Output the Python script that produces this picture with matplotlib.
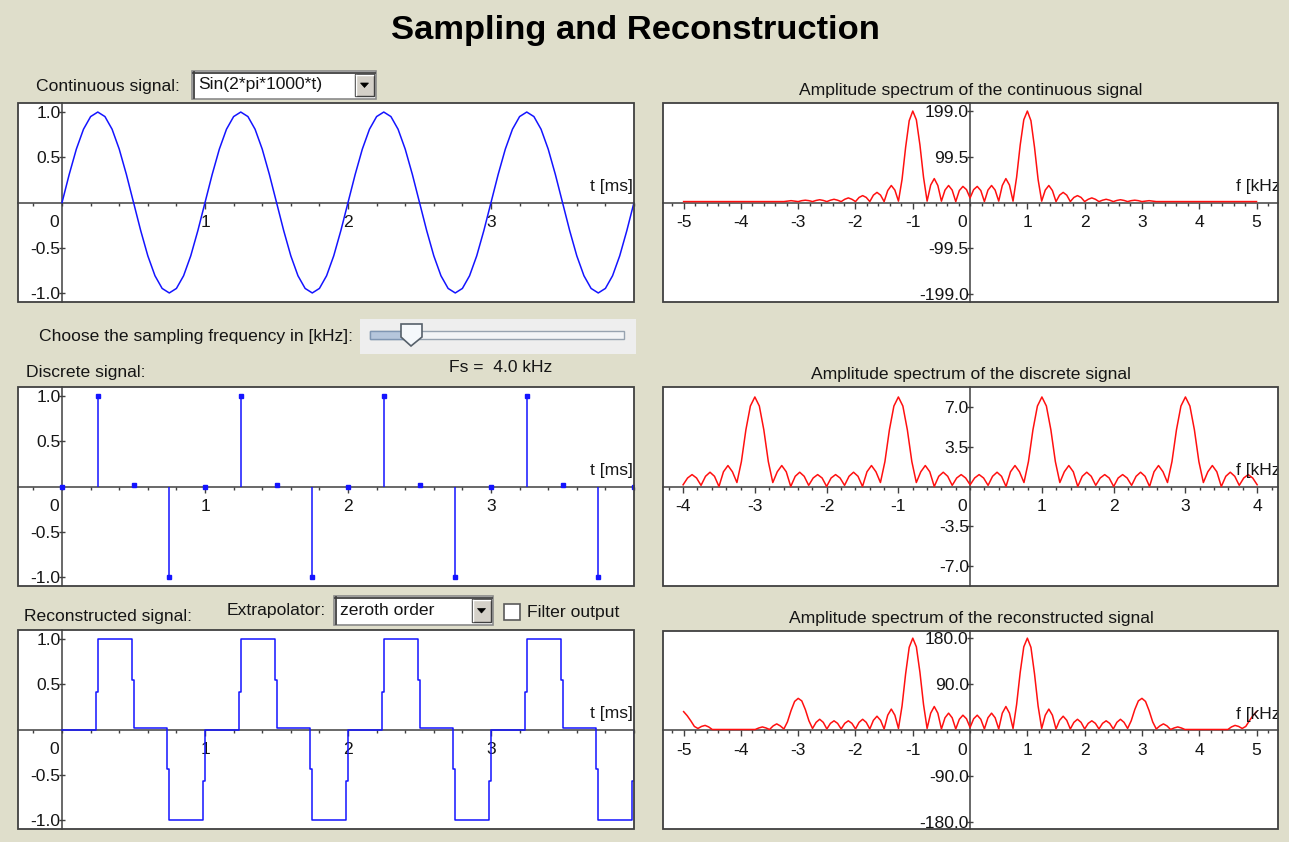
import numpy as np
import matplotlib.pyplot as plt
import matplotlib.transforms as mtransforms
from matplotlib.patches import Rectangle, Polygon
from matplotlib.ticker import MultipleLocator, FixedLocator

plt.rcParams['font.family'] = ['Liberation Sans', 'DejaVu Sans']

W, H = 1289, 842
BG = '#DFDECB'
FRAME = '#404040'
TXT = '#151515'
BLUE = '#1414FF'
RED = '#FF1010'
FS = 12.6

# ---- data ----
# continuous signal, t in ms (step 0.05 ms)
t_cont = np.linspace(0, 4, 81)
x_cont = [0, .31, .59, .81, .95, 1, .95, .81, .59, .31, 0, -.31, -.59, -.81, -.95, -1, -.95, -.81, -.59, -.31,
          0, .31, .59, .81, .95, 1, .95, .81, .59, .31, 0, -.31, -.59, -.81, -.95, -1, -.95, -.81, -.59, -.31,
          0, .31, .59, .81, .95, 1, .95, .81, .59, .31, 0, -.31, -.59, -.81, -.95, -1, -.95, -.81, -.59, -.31,
          0, .31, .59, .81, .95, 1, .95, .81, .59, .31, 0, -.31, -.59, -.81, -.95, -1, -.95, -.81, -.59, -.31,
          0]

# samples at Fs = 4 kHz
t_samp = np.linspace(0, 4, 17)
x_samp = [0, 1, 0.015, -1, 0, 1, 0.015, -1, 0, 1, 0.015, -1, 0, 1, 0.015, -1, 0]

# short intermediate level drawn at each zero-order-hold edge (t = 0.25 ... 4.0)
edge_mid = [0.42, 0.55, -0.44, -0.57, 0.42, 0.55, -0.44, -0.57,
            0.42, 0.55, -0.44, -0.57, 0.42, 0.55, -0.44, -0.57]
edge_w = 0.014

# amplitude spectra, f >= 0 half (spectra are even), kHz
f_cont = list(np.arange(0, 3.2501, 0.0625)) + [5.0]
a_cont = [10, 28, 35, 26, 2, 27, 37, 27, 3, 37, 52, 38, 3,
          55, 125, 180, 199, 178, 120, 50, 3,
          27, 37, 26, 2, 16, 22, 16, 2, 11, 15, 11, 2, 7, 10, 7, 2,
          5, 7, 5, 2, 4.5, 6, 4.5, 2, 4, 5, 4, 2, 3, 4, 3, 2,
          2]

f_disc = np.arange(0, 4.0001, 0.0625)
a_disc = [0.15, 0.75, 1.05, 0.75, 0.1, 0.9, 1.26, 0.9, 0.0, 1.3, 1.85, 1.3, 0.35,
          2.2, 5.0, 7.1, 7.9, 7.1, 5.0, 2.2, 0.35,
          1.3, 1.85, 1.3, 0.0, 0.9, 1.26, 0.9, 0.1, 0.75, 1.05, 0.75, 0.0,
          0.75, 1.05, 0.75, 0.1, 0.9, 1.26, 0.9, 0.0, 1.3, 1.85, 1.3, 0.35,
          2.2, 5.0, 7.1, 7.9, 7.1, 5.0, 2.2, 0.35,
          1.3, 1.85, 1.3, 0.0, 0.9, 1.26, 0.9, 0.1, 0.75, 1.05, 0.75, 0.15]

f_rec = np.arange(0, 5.0001, 0.0625)
a_rec = [5, 22, 29, 21, 2, 24, 33, 24, 2, 33, 46, 33, 3,
         50, 113, 163, 180, 162, 110, 47, 3,
         29, 41, 29, 2, 19, 27, 19, 2, 15, 21, 15, 2, 13, 18, 13, 2,
         13, 18, 13, 2, 15, 21, 15, 3,
         18, 40, 57, 62, 56, 38, 16, 2,
         8, 12, 8, 1, 4, 6, 4, 1,
         1, 1, 1, 1, 1, 1, 1, 1, 1, 1, 1, 1,
         6, 9, 7, 3, 7, 18, 28, 36]


def mirror(f, a):
    f = np.asarray(f, float)
    a = np.asarray(a, float)
    return np.concatenate([-f[::-1], f[1:]]), np.concatenate([a[::-1], a[1:]])


fig = plt.figure(figsize=(W / 100, H / 100), dpi=100, facecolor=BG)
bg = fig.add_axes([0, 0, 1, 1], zorder=0)
bg.set_xlim(0, W)
bg.set_ylim(H, 0)
bg.axis('off')


def panel(x0, y0, x1, y1):
    ax = fig.add_axes([x0 / W, 1 - y1 / H, (x1 - x0) / W, (y1 - y0) / H], zorder=1)
    ax.set_facecolor('white')
    for s in ['top', 'right']:
        ax.spines[s].set_visible(False)
    for s in ['left', 'bottom']:
        ax.spines[s].set_position(('data', 0))
        ax.spines[s].set_color(FRAME)
        ax.spines[s].set_linewidth(1.1)
    ax.add_patch(Rectangle((0, 0), 1, 1, transform=ax.transAxes, fill=False,
                           ec=FRAME, lw=1.3, zorder=6, clip_on=False))
    ax.tick_params(axis='x', which='major', direction='out', length=4, width=1,
                   pad=5.2, labelsize=FS, color=FRAME, labelcolor=TXT)
    ax.tick_params(axis='x', which='minor', direction='out', length=2, width=1, color=FRAME)
    ax.tick_params(axis='y', which='major', direction='inout', length=5, width=1,
                   pad=-1.5, labelsize=FS, color=FRAME, labelcolor=TXT)
    return ax


def finish(ax, xt, yt, ylab, xname, time_axis):
    ax.xaxis.set_major_locator(FixedLocator(xt))
    ax.set_xticklabels([str(v) for v in xt])
    ax.xaxis.set_minor_locator(MultipleLocator(0.2))
    ax.set_yticks(yt)
    ax.set_yticklabels(ylab)
    off = mtransforms.offset_copy(ax.transData, fig=fig, x=-5.5, y=-9.2, units='points')
    ax.text(0, 0, '0', transform=off, ha='center', va='top', fontsize=FS, color=TXT)
    if time_axis:
        ax.text(0.998, 0.58, xname, transform=ax.transAxes, ha='right', va='center',
                fontsize=FS, color=TXT)
    else:
        ax.text(0.932, 0.58, xname, transform=ax.transAxes, ha='left', va='center',
                fontsize=FS, color=TXT, clip_on=True)


# ---- time-domain panels ----
ax1 = panel(18, 103, 634, 302)
ax1.plot(t_cont, x_cont, color=BLUE, lw=1.1, zorder=3)
ax1.set_xlim(-0.308, 4.0)
ax1.set_ylim(-1.1, 1.1)
finish(ax1, [1, 2, 3], [-1, -0.5, 0.5, 1], ['-1.0', '-0.5', '0.5', '1.0'], 't [ms]', True)

ax3 = panel(18, 387, 634, 586)
ax3.vlines(t_samp, 0, x_samp, color=BLUE, lw=1.1, zorder=3)
ax3.plot(t_samp, x_samp, 's', color=BLUE, ms=2.8, zorder=4)
ax3.set_xlim(-0.308, 4.0)
ax3.set_ylim(-1.1, 1.1)
finish(ax3, [1, 2, 3], [-1, -0.5, 0.5, 1], ['-1.0', '-0.5', '0.5', '1.0'], 't [ms]', True)

zx, zy = [t_samp[0]], [x_samp[0]]
for k in range(1, len(t_samp)):
    tk = t_samp[k]
    zx += [tk - edge_w, tk - edge_w, tk, tk]
    zy += [x_samp[k - 1], edge_mid[k - 1], edge_mid[k - 1], x_samp[k]]
ax5 = panel(18, 630, 634, 829)
ax5.plot(zx, zy, color=BLUE, lw=1.1, zorder=3)
ax5.set_xlim(-0.308, 4.0)
ax5.set_ylim(-1.1, 1.1)
finish(ax5, [1, 2, 3], [-1, -0.5, 0.5, 1], ['-1.0', '-0.5', '0.5', '1.0'], 't [ms]', True)

# ---- spectrum panels ----
xt5 = [-5, -4, -3, -2, -1, 1, 2, 3, 4, 5]
ax2 = panel(663, 103, 1278, 302)
ff, aa = mirror(f_cont, a_cont)
ax2.plot(ff, aa, color=RED, lw=1.1, zorder=3)
ax2.set_xlim(-5.36, 5.375)
ax2.set_ylim(-216.5, 216.5)
finish(ax2, xt5, [-199, -99.5, 99.5, 199], ['-199.0', '-99.5', '99.5', '199.0'], 'f [kHz]', False)

ax4 = panel(663, 387, 1278, 586)
ff, aa = mirror(f_disc, a_disc)
ax4.plot(ff, aa, color=RED, lw=1.1, zorder=3)
ax4.set_xlim(-4.28, 4.29)
ax4.set_ylim(-8.78, 8.78)
finish(ax4, [-4, -3, -2, -1, 1, 2, 3, 4], [-7, -3.5, 3.5, 7], ['-7.0', '-3.5', '3.5', '7.0'], 'f [kHz]', False)

ax6 = panel(663, 631, 1278, 829)
ff, aa = mirror(f_rec, a_rec)
ax6.plot(ff, aa, color=RED, lw=1.1, zorder=3)
ax6.set_xlim(-5.36, 5.375)
ax6.set_ylim(-194, 194)
finish(ax6, xt5, [-180, -90, 90, 180], ['-180.0', '-90.0', '90.0', '180.0'], 'f [kHz]', False)

# ---- texts and widgets ----
bg.text(635, 30, 'Sampling and Reconstruction', ha='center', va='center',
        fontsize=24.8, fontweight='bold', color='black')


def label(x, y, s, ha='left'):
    bg.text(x, y, s, ha=ha, va='center', fontsize=FS, color=TXT)


def combo(x0, y0, x1, y1, s):
    bg.add_patch(Rectangle((x0, y0), x1 - x0, y1 - y0, fc='white', ec='#8A8A8A', lw=1.2))
    bg.plot([x0 + 1, x1 - 1], [y0 + 1.5, y0 + 1.5], color='#404040', lw=1.3)
    bg.plot([x0 + 1.5, x0 + 1.5], [y0 + 1, y1 - 1], color='#404040', lw=1.3)
    bx0, bx1, by0, by1 = x1 - 21, x1 - 2, y0 + 3, y1 - 3
    bg.add_patch(Rectangle((bx0, by0), bx1 - bx0, by1 - by0, fc='#D4D0C8', ec='#404040', lw=1))
    bg.plot([bx0 + 1, bx1 - 1], [by0 + 1.2, by0 + 1.2], color='white', lw=1)
    bg.plot([bx0 + 1.2, bx0 + 1.2], [by0 + 1, by1 - 1], color='white', lw=1)
    cx, cy = (bx0 + bx1) / 2, (by0 + by1) / 2
    bg.add_patch(Polygon([(cx - 4, cy - 2), (cx + 4, cy - 2), (cx, cy + 2.5)], closed=True,
                         fc='black', ec='black', lw=0.5))
    label(x0 + 6, (y0 + y1) / 2, s)


label(36, 87, 'Continuous signal:')
combo(192, 71, 376, 99, 'Sin(2*pi*1000*t)')

label(39, 336, 'Choose the sampling frequency in [kHz]:')
bg.add_patch(Rectangle((360, 319), 276, 35, fc='#EEEEEE', ec='none'))
bg.add_patch(Rectangle((370, 331), 254, 8, fc='#F2F4F6', ec='#97A3B0', lw=1))
bg.add_patch(Rectangle((370, 331), 41, 8, fc='#B5C6DC', ec='#7F96B3', lw=1))
bg.add_patch(Polygon([(401, 324), (422, 324), (422, 337), (411, 346), (401, 337)], closed=True,
                     fc='#F5F8FB', ec='#56606A', lw=1.2))

label(26, 372, 'Discrete signal:')
label(449, 367, 'Fs =  4.0 kHz')

label(24, 616, 'Reconstructed signal:')
label(326, 611, 'Extrapolator:', ha='right')
combo(334, 596, 493, 625, 'zeroth order')
bg.add_patch(Rectangle((504, 604), 16, 16, fc='white', ec='#5A5A5A', lw=1.2))
label(527, 612, 'Filter output')

bg.text(971, 91, 'Amplitude spectrum of the continuous signal', ha='center', va='center',
        fontsize=FS, color=TXT)
bg.text(971, 375, 'Amplitude spectrum of the discrete signal', ha='center', va='center',
        fontsize=FS, color=TXT)
bg.text(971, 618, 'Amplitude spectrum of the reconstructed signal', ha='center', va='center',
        fontsize=FS, color=TXT)

fig.savefig('out.png', dpi=100, facecolor=BG)
